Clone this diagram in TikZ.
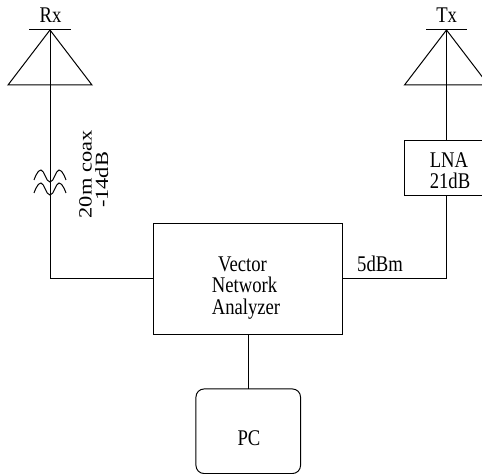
\documentclass[tikz,border=0pt]{standalone}
\usepackage{fontspec}
\setmainfont{Liberation Serif}
\tikzset{
  boxnode/.style={draw,line width=0.75pt,inner sep=0pt,outer sep=0pt},
  labelnode/.style={inner sep=0pt,anchor=base,yscale=1.2,transform shape,font=\fontsize{14}{14}\selectfont},
  wire/.style={line width=0.75pt},
}
\begin{document}
\begin{tikzpicture}[x=0.75pt,y=-0.75pt]

\useasboundingbox (0,0) rectangle (482,474) ;
\clip (0,0) rectangle (482,474) ;

\coordinate (rx_top) at (50,30) ;
\coordinate (tx_top) at (446.5,30) ;

\draw[wire] (29,30) -- (71,30) ;
\draw[wire] (426,30) -- (467,30) ;
\draw[wire] (rx_top) -- (8,85) -- (92,85) -- cycle ;
\draw[wire] (tx_top) -- (404.5,85) -- (488.5,85) -- cycle ;

\node[boxnode,minimum width=141.4pt,minimum height=83.25pt] (vna_box) at (248.25,278.75) {} ;
\node[boxnode,minimum width=63pt,minimum height=41.6pt] (lna_box) at (446.5,168.25) {} ;
\node[boxnode,rounded corners=6pt,minimum width=78.4pt,minimum height=63.4pt] (pc_box) at (248.25,431.25) {} ;

\draw[wire] (rx_top) |- (vna_box.west) ;
\draw[wire] (tx_top) -- (lna_box.north) ;
\draw[wire] (lna_box.south) |- (vna_box.east) ;
\draw[wire] (vna_box.south) -- (pc_box.north) ;

% coax
\foreach \dy in {0,13} {
  \draw[wire,yshift=-\dy*0.75pt] plot[smooth,tension=0.8] coordinates {(34,180) (41,170) (50,182) (59,170) (66,180)} ;
}

\node[labelnode] (rx_text) at (50.5,22.7) {Rx} ;
\node[labelnode] (tx_text) at (446.7,23) {Tx} ;
\node[labelnode] (lna_text) at (449,168) {LNA} ;
\node[labelnode] (gain_text) at (450,189) {21dB} ;
\node[labelnode] (power_text) at (380,271.7) {5dBm} ;
\node[labelnode] (vector_text) at (242.5,272) {Vector} ;
\node[labelnode] (network_text) at (244.5,292.7) {Network} ;
\node[labelnode] (analyzer_text) at (246,314) {Analyzer} ;
\node[labelnode] (pc_text) at (249,445) {PC} ;
\node[labelnode,rotate=90] (coax_text) at (91.5,174.5) {20m coax} ;
\node[labelnode,rotate=90] (loss_text) at (108,180) {-14dB} ;

\end{tikzpicture}
\end{document}
